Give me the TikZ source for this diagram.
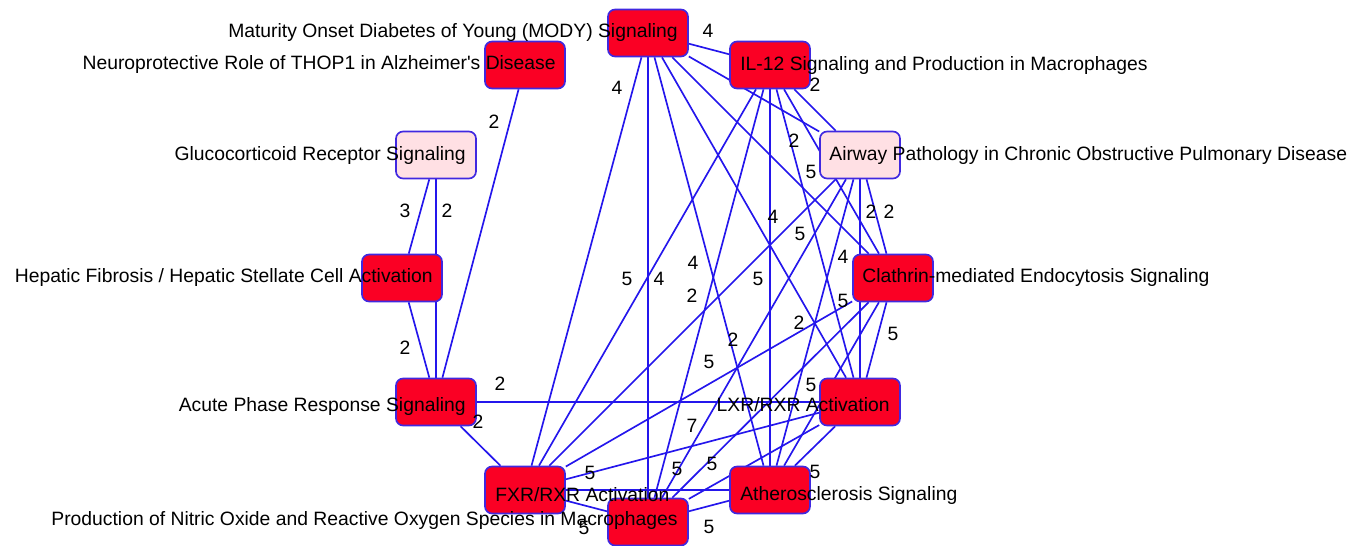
\documentclass[tikz,border=0pt]{standalone}
\usepackage{fontspec}
\setmainfont{Liberation Sans}
\usetikzlibrary{positioning, backgrounds}

\definecolor{pathred}{RGB}{250,0,36}
\definecolor{pathpink}{RGB}{255,224,228}
\definecolor{linkblue}{RGB}{36,22,236}
\definecolor{rimblue}{RGB}{64,40,224}

\tikzset{
  pathbox/.style={draw=rimblue, line width=0.95pt, rounded corners=4pt,
    minimum width=1.6cm, minimum height=0.94cm, inner sep=0pt},
  link/.style={linkblue, line width=0.95pt},
  weight/.style={font=\fontsize{11}{13}\selectfont, inner sep=0pt},
  pathname/.style={font=\fontsize{11}{13}\selectfont, inner sep=0pt}
}

\begin{document}
\begin{tikzpicture}[x=0.02cm, y=-0.02cm]
\useasboundingbox (0,0) rectangle (1363,546);
% pathway boxes on a circle
\foreach \n/\x/\y/\c in {mody/648/33/pathred, thop/525/65/pathred, il12/770/65/pathred,
    gluco/436/155/pathpink, airway/860/155/pathpink, hepatic/402/278/pathred,
    clathrin/893/278/pathred, acute/436/402/pathred, lxr/860/402/pathred,
    fxr/525/490/pathred, athero/770/490/pathred, nitric/648/522/pathred}
  \node[pathbox, fill=\c] (\n) at (\x,\y) {};

% overlap links
\begin{scope}[on background layer]
\foreach \a/\b in {thop/acute, gluco/hepatic, gluco/acute, hepatic/acute, acute/lxr, acute/fxr,
    mody/il12, mody/airway, mody/clathrin, mody/lxr, mody/athero, mody/nitric, mody/fxr,
    il12/airway, il12/clathrin, il12/lxr, il12/athero, il12/nitric, il12/fxr,
    airway/clathrin, airway/lxr, airway/athero, airway/nitric, airway/fxr,
    clathrin/lxr, clathrin/athero, clathrin/nitric, clathrin/fxr,
    lxr/athero, lxr/nitric, lxr/fxr, athero/nitric, athero/fxr, nitric/fxr}
  \draw[link] (\a) -- (\b);
\end{scope}

% shared counts
\foreach \x/\y/\w [count=\i] in {708/31/4, 617/88/4, 815/85/2, 494/122/2, 794/141/2,
    811/172/5, 405/211/3, 447/211/2, 871/212/2, 889/212/2, 773/217/4, 800/234/5,
    843/257/4, 693/263/4, 627/279/5, 659/279/4, 758/279/5, 692/296/2, 843/301/5,
    799/323/2, 893/334/5, 733/340/2, 405/348/2, 709/362/5, 500/384/2, 811/385/5,
    478/422/2, 692/426/7, 590/473/5, 677/469/5, 712/464/5, 815/472/5, 709/527/5,
    584/528/5}
  \node[weight] (w\i) at (\x,\y) {\w};

% pathway names
\foreach \n/\a/\x/\y/\t in {
    mody/east/678/38/{Maturity Onset Diabetes of Young (MODY) Signaling},
    thop/east/556/70/{Neuroprotective Role of THOP1 in Alzheimer\textquotesingle s Disease},
    il12/west/740/71/{IL-12 Signaling and Production in Macrophages},
    gluco/east/466/161/{Glucocorticoid Receptor Signaling},
    airway/west/829/161/{Airway Pathology in Chronic Obstructive Pulmonary Disease},
    hepatic/east/433/283/{Hepatic Fibrosis / Hepatic Stellate Cell Activation},
    clathrin/west/862/283/{Clathrin-mediated Endocytosis Signaling},
    acute/east/466/412/{Acute Phase Response Signaling},
    lxr/east/890/412/{LXR/RXR Activation},
    fxr/west/495/502/{FXR/RXR Activation},
    athero/west/740/501/{Atherosclerosis Signaling},
    nitric/east/678/526/{Production of Nitric Oxide and Reactive Oxygen Species in Macrophages}}
  \node[pathname, anchor=base \a] (\n-name) at (\x,\y) {\t};
\end{tikzpicture}
\end{document}
